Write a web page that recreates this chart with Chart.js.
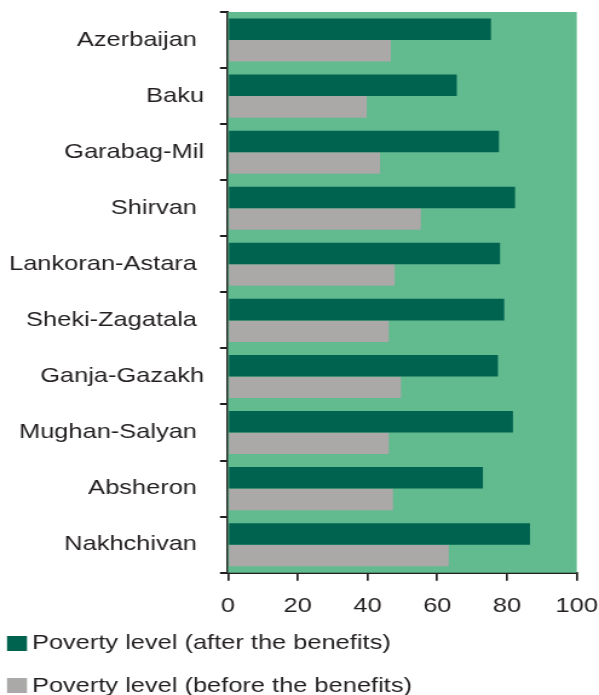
<!DOCTYPE html>
<html><head><meta charset="utf-8">
<script src="https://cdn.jsdelivr.net/npm/chart.js@4"></script>
<style>
html,body{margin:0;padding:0;background:#fff;overflow:hidden;}
#wrap{width:495px;height:695px;transform:scaleX(1.2101);transform-origin:0 0;}
</style></head><body>
<div id="wrap"><canvas id="c" width="495" height="695" style="width:495px;height:695px"></canvas></div>
<script>
const categories = ['Azerbaijan ', 'Baku', 'Garabag-Mil', 'Shirvan ', 'Lankoran-Astara ', 'Sheki-Zagatala ', 'Ganja-Gazakh', 'Mughan-Salyan ', 'Absheron ', 'Nakhchivan '];
const afterBenefits = [75.4, 65.6, 77.7, 82.3, 78.0, 79.2, 77.4, 81.7, 73.1, 86.6];
const beforeBenefits = [46.7, 39.8, 43.6, 55.3, 47.8, 46.1, 49.6, 46.1, 47.3, 63.3];
const xTicks = [0, 20, 40, 60, 80, 100];
const seriesNames = ['Poverty level (after the benefits)', 'Poverty level (before the benefits)'];

const FONT = '"Liberation Sans", Arial, sans-serif';
const TEXT = '#231f20';

const bgPlugin = {
  id: 'plotBg',
  beforeDatasetsDraw(chart) {
    const a = chart.chartArea, ctx = chart.ctx;
    ctx.save();
    ctx.fillStyle = '#62ba8f';
    ctx.fillRect(a.left, a.top, a.right - a.left, a.bottom - a.top);
    ctx.restore();
  }
};
const legendPlugin = {
  id: 'stackLegend',
  afterDraw(chart) {
    const ctx = chart.ctx;
    ctx.save();
    ctx.font = '21px ' + FONT;
    ctx.textAlign = 'left';
    ctx.textBaseline = 'alphabetic';
    chart.data.datasets.forEach((ds, i) => {
      const top = 636 + i * 42;
      ctx.fillStyle = ds.backgroundColor;
      ctx.fillRect(5.8, top, 16.5, 15);
      ctx.fillStyle = TEXT;
      ctx.fillText(ds.label, 26.4, 649 + i * 43);
    });
    ctx.restore();
  }
};

new Chart(document.getElementById('c'), {
  type: 'bar',
  data: {
    labels: categories,
    datasets: [
      { label: seriesNames[0], data: afterBenefits, backgroundColor: '#006350', borderWidth: 0 },
      { label: seriesNames[1], data: beforeBenefits, backgroundColor: '#aaa9a7', borderWidth: 0 }
    ]
  },
  options: {
    indexAxis: 'y',
    responsive: false,
    animation: false,
    devicePixelRatio: 1,
    datasets: { bar: { categoryPercentage: 0.768, barPercentage: 1.0 } },
    layout: { padding: { top: 12, right: 18.4, left: 0, bottom: 0 } },
    plugins: { legend: { display: false }, tooltip: { enabled: false } },
    scales: {
      x: {
        min: 0, max: 100,
        afterBuildTicks: (s) => { s.ticks = xTicks.map(v => ({ value: v })); },
        afterFit: (s) => { s.height = 122.3; s.paddingLeft = 0; s.paddingRight = 0; },
        grid: { display: true, drawOnChartArea: false, tickLength: 8, lineWidth: 1.7, color: TEXT },
        border: { display: true, color: TEXT, width: 2 },
        ticks: { color: TEXT, font: { family: FONT, size: 21 }, padding: 13, maxRotation: 0 }
      },
      y: {
        afterFit: (s) => { s.width = 188.4; s.paddingTop = 0; s.paddingBottom = 0; },
        grid: { display: true, drawOnChartArea: false, offset: true, tickLength: 6.6, lineWidth: 2, color: TEXT },
        border: { display: true, color: TEXT, width: 2 },
        ticks: { color: TEXT, font: { family: FONT, size: 21 }, padding: 13.2, autoSkip: false }
      }
    }
  },
  plugins: [bgPlugin, legendPlugin]
});
</script>
</body></html>
